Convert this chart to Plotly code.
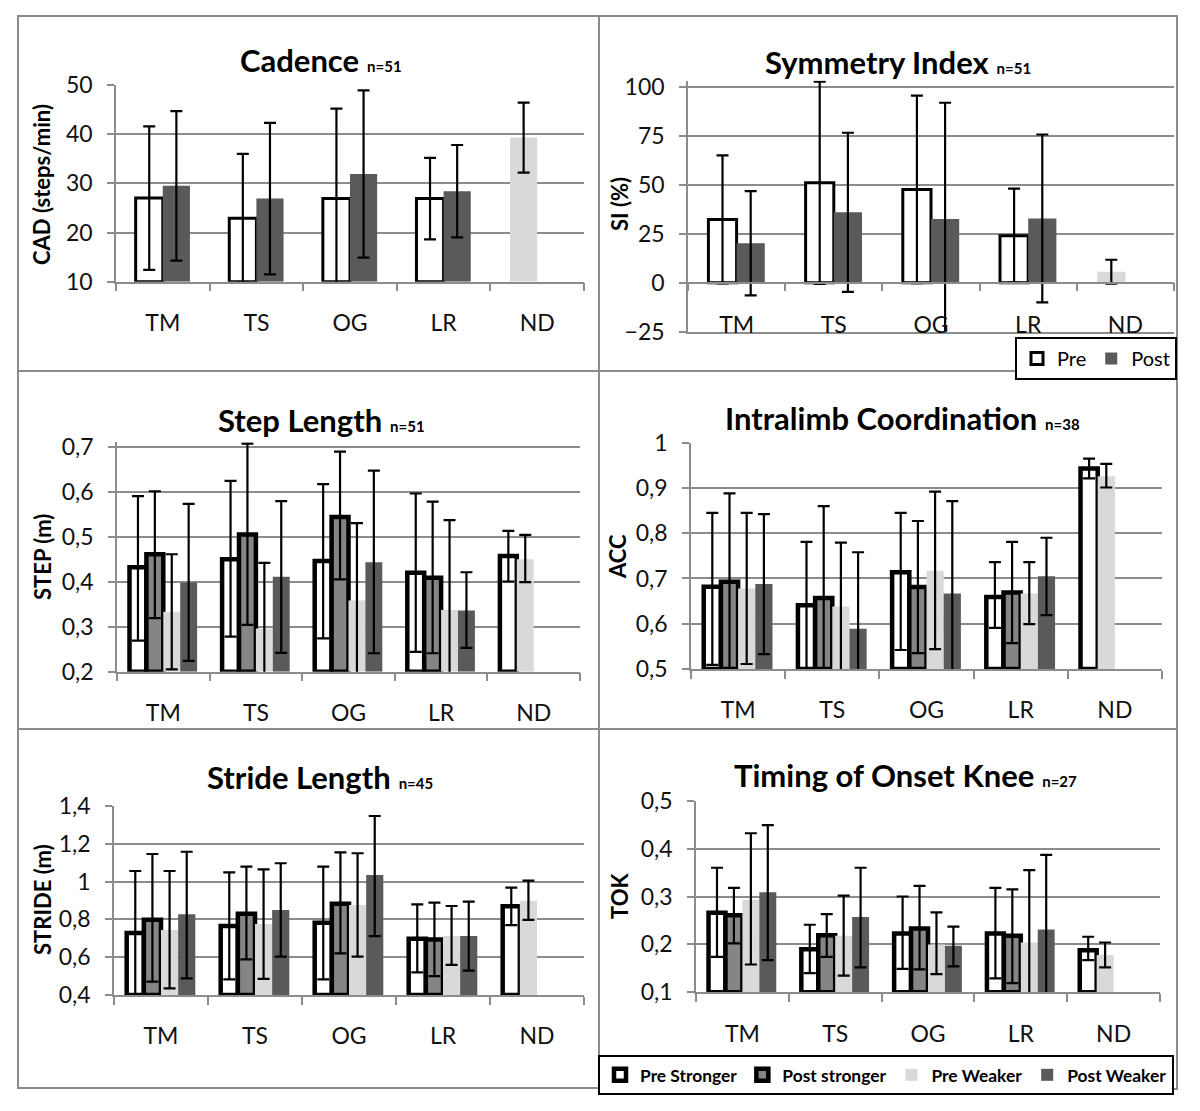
import plotly.graph_objects as go

W, H = 1200, 1111

# ---------------- data ----------------
categories = ["TM", "TS", "OG", "LR", "ND"]

# Cadence (steps/min)
cad_pre = [27.0, 22.9, 26.9, 26.9, 39.3]
cad_pre_err = [14.6, 13.1, 18.3, 8.3, 7.1]
cad_post = [29.5, 26.9, 31.9, 28.4, None]
cad_post_err = [15.2, 15.4, 17.0, 9.4, None]

# Symmetry index (%)
si_pre = [32.3, 51.0, 47.6, 24.0, 5.6]
si_pre_err = [32.7, 51.6, 47.8, 24.0, 6.1]
si_post = [20.1, 35.9, 32.5, 32.8, None]
si_post_err = [26.6, 40.6, 59.3, 42.8, None]

# Step length (m)  -- ND weaker value sits in the 'Post stronger' slot as in the original
step_pre_s = [0.432, 0.450, 0.446, 0.420, 0.457]
step_pre_s_up = [0.158, 0.174, 0.171, 0.176, 0.056]
step_pre_s_dn = [0.163, 0.172, 0.172, 0.176, 0.057]
step_post_s = [0.461, 0.505, 0.544, 0.409, 0.450]
step_post_s_up = [0.140, 0.202, 0.145, 0.169, 0.054]
step_post_s_dn = [0.142, 0.201, 0.139, 0.168, 0.051]
step_pre_w = [0.333, 0.296, 0.358, 0.337, None]
step_pre_w_up = [0.128, 0.146, 0.172, 0.200, None]
step_pre_w_dn = [0.128, 0.146, 0.172, 0.200, None]
step_post_w = [0.398, 0.411, 0.443, 0.336, None]
step_post_w_up = [0.175, 0.168, 0.204, 0.085, None]
step_post_w_dn = [0.174, 0.169, 0.202, 0.083, None]

# Intralimb coordination (ACC)
acc_pre_s = [0.682, 0.641, 0.714, 0.659, 0.943]
acc_pre_s_up = [0.163, 0.140, 0.131, 0.077, 0.022]
acc_pre_s_dn = [0.173, 0.140, 0.172, 0.068, 0.022]
acc_post_s = [0.693, 0.657, 0.681, 0.669, 0.926]
acc_post_s_up = [0.195, 0.203, 0.146, 0.112, 0.027]
acc_post_s_dn = [0.195, 0.203, 0.146, 0.112, 0.025]
acc_pre_w = [0.678, 0.638, 0.717, 0.667, None]
acc_pre_w_up = [0.167, 0.141, 0.175, 0.069, None]
acc_pre_w_dn = [0.167, 0.141, 0.173, 0.068, None]
acc_post_w = [0.688, 0.589, 0.667, 0.705, None]
acc_post_w_up = [0.154, 0.169, 0.204, 0.085, None]
acc_post_w_dn = [0.155, 0.169, 0.204, 0.086, None]

# Stride length (m)
stride_pre_s = [0.728, 0.765, 0.782, 0.698, 0.869]
stride_pre_s_up = [0.328, 0.284, 0.297, 0.182, 0.099]
stride_pre_s_dn = [0.328, 0.282, 0.299, 0.178, 0.099]
stride_post_s = [0.798, 0.830, 0.883, 0.694, 0.899]
stride_post_s_up = [0.348, 0.249, 0.272, 0.195, 0.106]
stride_post_s_dn = [0.327, 0.241, 0.263, 0.194, 0.102]
stride_pre_w = [0.744, 0.776, 0.876, 0.712, None]
stride_pre_w_up = [0.312, 0.289, 0.274, 0.159, None]
stride_pre_w_dn = [0.309, 0.291, 0.273, 0.153, None]
stride_post_w = [0.827, 0.850, 1.035, 0.712, None]
stride_post_w_up = [0.331, 0.247, 0.312, 0.182, None]
stride_post_w_dn = [0.339, 0.247, 0.323, 0.183, None]

# Timing of onset knee (TOK)
tok_pre_s = [0.266, 0.190, 0.223, 0.223, 0.188]
tok_pre_s_up = [0.094, 0.051, 0.077, 0.095, 0.028]
tok_pre_s_dn = [0.092, 0.050, 0.074, 0.094, 0.021]
tok_post_s = [0.261, 0.219, 0.233, 0.218, 0.178]
tok_post_s_up = [0.057, 0.044, 0.089, 0.097, 0.026]
tok_post_s_dn = [0.059, 0.045, 0.085, 0.099, 0.026]
tok_pre_w = [0.293, 0.218, 0.200, 0.204, None]
tok_pre_w_up = [0.139, 0.084, 0.067, 0.151, None]
tok_pre_w_dn = [0.135, 0.083, 0.062, 0.151, None]
tok_post_w = [0.309, 0.257, 0.197, 0.231, None]
tok_post_w_up = [0.140, 0.103, 0.040, 0.156, None]
tok_post_w_dn = [0.142, 0.105, 0.043, 0.156, None]

# ---------------- style ----------------
FONT = "Lato"
WHITE, LIGHT, MID, DARK = "#ffffff", "#d9d9d9", "#858585", "#5a5a5a"
GRID = "#8c8c8c"
ERR = dict(color="black", thickness=2.2, width=6)


def xdom(a, b):
    return [a / W, b / W]


def ydom(top, bottom):
    return [1 - bottom / H, 1 - top / H]


def shifted(vals, base):
    return [None if v is None else v - base for v in vals]


fig = go.Figure()


def add_pre_post(xa, ya, base, pre, pre_err, post, post_err, show):
    n = len(categories)
    pre_col = [WHITE] * (n - 1) + [LIGHT]
    pre_lw = [3] * (n - 1) + [0]
    fig.add_trace(go.Bar(
        x=categories, y=shifted(pre, base), base=base, width=0.29, offset=-0.29,
        marker=dict(color=pre_col, line=dict(color="black", width=pre_lw)),
        error_y=dict(type="data", array=pre_err, **ERR),
        xaxis=xa, yaxis=ya, name="Pre", showlegend=show, legend="legend"))
    fig.add_trace(go.Bar(
        x=categories, y=shifted(post, base), base=base, width=0.29, offset=0,
        marker=dict(color=DARK, line=dict(width=0)),
        error_y=dict(type="data", array=post_err, **ERR),
        xaxis=xa, yaxis=ya, name="Post", showlegend=show, legend="legend"))


def add_four(xa, ya, base, series, show):
    names = ["Pre Stronger", "Post stronger", "Pre Weaker", "Post Weaker"]
    fills = [WHITE, MID, LIGHT, DARK]
    lws = [4.5, 4.5, 0, 0]
    n = len(categories)
    for i, (vals, up, dn) in enumerate(series):
        col = [fills[i]] * n
        lw = [lws[i]] * n
        if i == 1:  # ND weaker drawn in this slot, light grey without outline
            col[-1] = LIGHT
            lw[-1] = 0
        fig.add_trace(go.Bar(
            x=categories, y=shifted(vals, base), base=base,
            marker=dict(color=col, line=dict(color="black", width=lw)),
            error_y=dict(type="data", symmetric=False, array=up, arrayminus=dn, **ERR),
            xaxis=xa, yaxis=ya, name=names[i], showlegend=show, legend="legend2"))


add_pre_post("x", "y", 10, cad_pre, cad_pre_err, cad_post, cad_post_err, False)
add_pre_post("x2", "y2", 0, si_pre, si_pre_err, si_post, si_post_err, True)
add_four("x3", "y3", 0.2, [(step_pre_s, step_pre_s_up, step_pre_s_dn),
                           (step_post_s, step_post_s_up, step_post_s_dn),
                           (step_pre_w, step_pre_w_up, step_pre_w_dn),
                           (step_post_w, step_post_w_up, step_post_w_dn)], False)
add_four("x4", "y4", 0.5, [(acc_pre_s, acc_pre_s_up, acc_pre_s_dn),
                           (acc_post_s, acc_post_s_up, acc_post_s_dn),
                           (acc_pre_w, acc_pre_w_up, acc_pre_w_dn),
                           (acc_post_w, acc_post_w_up, acc_post_w_dn)], False)
add_four("x5", "y5", 0.4, [(stride_pre_s, stride_pre_s_up, stride_pre_s_dn),
                           (stride_post_s, stride_post_s_up, stride_post_s_dn),
                           (stride_pre_w, stride_pre_w_up, stride_pre_w_dn),
                           (stride_post_w, stride_post_w_up, stride_post_w_dn)], False)
add_four("x6", "y6", 0.1, [(tok_pre_s, tok_pre_s_up, tok_pre_s_dn),
                           (tok_post_s, tok_post_s_up, tok_post_s_dn),
                           (tok_pre_w, tok_pre_w_up, tok_pre_w_dn),
                           (tok_post_w, tok_post_w_up, tok_post_w_dn)], True)

# empty trace so the zero-level category axis of the SI panel is drawn
fig.add_trace(go.Scatter(x=[], y=[], xaxis="x7", yaxis="y2", showlegend=False))

# ---------------- axes ----------------
panels = {
    1: dict(x=(116, 584), y=(85, 281.7), rng=[10, 50], dt=10),
    2: dict(x=(688, 1174), y=(80.8, 331.7), rng=[-25, 103], dt=25),
    3: dict(x=(117, 580), y=(442.2, 671.7), rng=[0.2, 0.71], dt=0.1),
    4: dict(x=(691, 1162), y=(442.7, 669), rng=[0.5, 1.0], dt=0.1),
    5: dict(x=(114, 584), y=(806, 995), rng=[0.4, 1.4], dt=0.2),
    6: dict(x=(696, 1160), y=(800.7, 992.3), rng=[0.1, 0.5], dt=0.1),
}
tickfont = dict(family=FONT, size=23, color="#111111")
layout_axes = {}
for k, p in panels.items():
    sx = "" if k == 1 else str(k)
    xa = dict(domain=xdom(*p["x"]), anchor="y" + sx, type="category",
              categoryorder="array", categoryarray=categories, automargin=False,
              range=[-0.5, 4.5], tickfont=tickfont, showgrid=False, zeroline=False)
    if k == 2:
        xa.update(showline=True, linecolor=GRID, linewidth=1.5, ticks="",
                  ticklabelstandoff=-28)
    else:
        xa.update(showline=True, linecolor=GRID, linewidth=1.5, ticks="outside",
                  tickson="boundaries", ticklen=8, tickcolor=GRID, tickwidth=1.5,
                  ticklabelstandoff=20)
    ya = dict(domain=ydom(*p["y"]), anchor="x" + sx, range=p["rng"], dtick=p["dt"],
              tick0=p["rng"][0], showgrid=True, gridcolor=GRID, gridwidth=1.5,
              showline=True, linecolor=GRID, linewidth=1.5, ticks="outside",
              ticklen=7, tickcolor=GRID, tickwidth=1.5, tickfont=tickfont,
              ticklabelstandoff=10, zeroline=False, automargin=False)
    layout_axes["xaxis" + sx] = xa
    layout_axes["yaxis" + sx] = ya

# zero-level category axis for SI panel
p2 = panels[2]
d2 = ydom(*p2["y"])
zero_pos = d2[0] + (0 - p2["rng"][0]) / (p2["rng"][1] - p2["rng"][0]) * (d2[1] - d2[0])
layout_axes["xaxis7"] = dict(overlaying="x2", anchor="free", position=zero_pos,
                             domain=xdom(*p2["x"]), range=[-0.5, 4.5],
                             tickvals=[-0.5, 0.5, 1.5, 2.5, 3.5, 4.5],
                             showticklabels=False, ticks="outside", ticklen=8,
                             tickcolor=GRID, tickwidth=1.5, showline=True,
                             linecolor=GRID, linewidth=1.5, showgrid=False,
                             zeroline=False, automargin=False)

# ---------------- titles ----------------
titles = [
    ("Cadence", "n=51", 321, 60),
    ("Symmetry Index", "n=51", 898, 62),
    ("Step Length", "n=51", 321, 420),
    ("Intralimb Coordination", "n=38", 903, 418),
    ("Stride Length", "n=45", 320, 777),
    ("Timing of Onset Knee", "n=27", 905, 775),
]
ann = []
for t, n, cx, cy in titles:
    ann.append(dict(text=f"<b>{t}</b> <b><span style='font-size:15px'>{n}</span></b>",
                    x=cx / W, y=1 - cy / H, xref="paper", yref="paper",
                    xanchor="center", yanchor="middle", showarrow=False,
                    font=dict(family=FONT, size=31, color="black")))

ytitles = [
    ("CAD (steps/min)", 42, 185),
    ("SI (%)", 619, 204),
    ("STEP (m)", 42, 557),
    ("ACC", 617, 557),
    ("STRIDE (m)", 42, 900),
    ("TOK", 619, 896),
]
for t, cx, cy in ytitles:
    ann.append(dict(text=f"<b>{t}</b>", x=cx / W, y=1 - cy / H, xref="paper",
                    yref="paper", xanchor="center", yanchor="middle",
                    textangle=-90, showarrow=False,
                    font=dict(family=FONT, size=22, color="black")))

# ---------------- panel frames ----------------
frames = [(18, 16, 599, 371), (599, 16, 1177, 371), (18, 371, 599, 729),
          (599, 371, 1177, 729), (18, 729, 599, 1088), (599, 729, 1177, 1089)]
shapes = [dict(type="rect", xref="paper", yref="paper", x0=a / W, x1=c / W,
               y0=1 - d / H, y1=1 - b / H, line=dict(color=GRID, width=2),
               layer="below") for a, b, c, d in frames]

fig.update_layout(
    width=W, height=H,
    margin=dict(l=0, r=0, t=0, b=0, pad=0, autoexpand=False),
    paper_bgcolor="white", plot_bgcolor="white",
    barmode="group", bargap=0.27, bargroupgap=0,
    separators=", ",
    font=dict(family=FONT, color="black"),
    annotations=ann, shapes=shapes,
    legend=dict(orientation="h", x=1177 / W, xanchor="right", y=1 - 337 / H,
                yanchor="top", bgcolor="white", bordercolor="black", borderwidth=2,
                font=dict(family=FONT, size=20, color="black")),
    legend2=dict(orientation="h", x=598 / W, xanchor="left", y=1 - 1055 / H,
                 yanchor="top", bgcolor="white", bordercolor="black", borderwidth=2,
                 font=dict(family=FONT, size=17.4, color="black", weight="bold")),
    **layout_axes,
)

fig.write_html("out.html", config={"displayModeBar": False},
               post_script="document.body.style.margin='0px';"
                           "document.body.style.overflow='hidden';")
